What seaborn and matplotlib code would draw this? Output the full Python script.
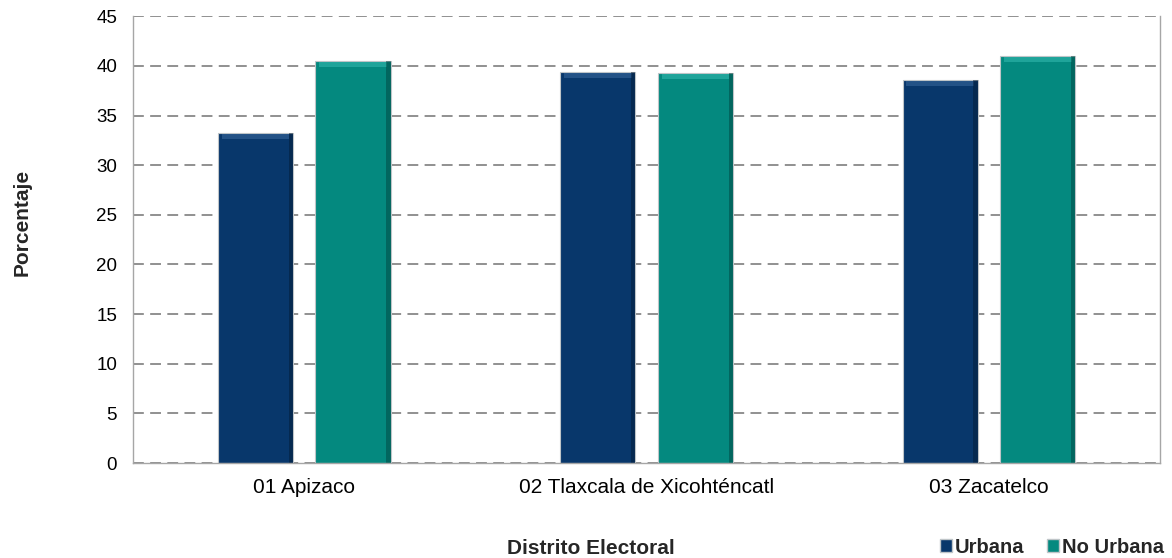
import pandas as pd
import matplotlib.pyplot as plt
import seaborn as sns
from matplotlib.colors import to_rgb

# datos
distritos = ["01 Apizaco", "02 Tlaxcala de Xicohténcatl", "03 Zacatelco"]
urbana = [33.2, 39.4, 38.6]
no_urbana = [40.5, 39.3, 41.0]
series = ["Urbana", "No Urbana"]
colores = ["#08376B", "#04897F"]

df = pd.DataFrame({
    "distrito": distritos * 2,
    "tipo": [series[0]] * 3 + [series[1]] * 3,
    "porcentaje": urbana + no_urbana,
})

sns.set_style("white")
plt.rcParams["font.family"] = ["Liberation Sans", "DejaVu Sans"]

fig = plt.figure(figsize=(11.72, 5.58), dpi=100)
ax = fig.add_axes([0.1135, 0.170, 0.8765, 0.801])

sns.barplot(
    data=df,
    x="distrito",
    y="porcentaje",
    hue="tipo",
    palette=colores,
    saturation=1,
    width=0.57,
    gap=0.23,
    edgecolor="#BFC5C8",
    linewidth=0.8,
    ax=ax,
)

# efecto de bisel: franja clara arriba y sombra a la derecha de cada barra
for bar in list(ax.patches):
    x0, w, h = bar.get_x(), bar.get_width(), bar.get_height()
    if h <= 0:
        continue
    base = to_rgb(bar.get_facecolor())
    claro = tuple(min(1, c + 0.18) for c in base)
    oscuro = tuple(c * 0.5 for c in base)
    ax.fill_between([x0 + w * 0.05, x0 + w * 0.95], h - 0.6, h - 0.1,
                    color=claro, alpha=0.6, linewidth=0, zorder=bar.get_zorder() + 0.1)
    ax.fill_between([x0 + w * 0.94, x0 + w], 0, h,
                    color=oscuro, alpha=0.5, linewidth=0, zorder=bar.get_zorder() + 0.1)

ax.set_xlim(-0.5, len(distritos) - 0.5)
ax.set_ylim(0, 45)
ax.set_yticks(range(0, 46, 5))
ax.yaxis.grid(True, linestyle=(0, (6, 3.5)), color="#888888", linewidth=1.3)
ax.set_axisbelow(True)

for side in ["left", "right", "bottom"]:
    ax.spines[side].set_color("#A6A6A6")
    ax.spines[side].set_linewidth(1.0)
ax.spines["top"].set_visible(False)

ax.tick_params(axis="both", length=0, colors="black")
ax.tick_params(axis="x", pad=11, labelsize=15)
ax.tick_params(axis="y", pad=11.5, labelsize=13.5)

ax.set_xlabel("")
ax.set_ylabel("")
fig.text(0.504, 0.017, "Distrito Electoral", ha="center", va="center",
         fontsize=15, fontweight="bold")
fig.text(0.019, 0.602, "Porcentaje", ha="center", va="center",
         rotation=90, fontsize=15, fontweight="bold")

ax.legend_.remove()
handles = [plt.Rectangle((0, 0), 1, 1, facecolor=c, edgecolor="#BFC5C8") for c in colores]
fig.legend(
    handles, series,
    loc="lower right",
    bbox_to_anchor=(0.993, 0.002),
    ncol=2,
    frameon=False,
    prop={"size": 14.5, "weight": "bold"},
    handlelength=0.6,
    handleheight=0.6,
    handletextpad=0.15,
    columnspacing=1.1,
    borderpad=0,
    borderaxespad=0,
)

fig.savefig("out.png", dpi=100)
